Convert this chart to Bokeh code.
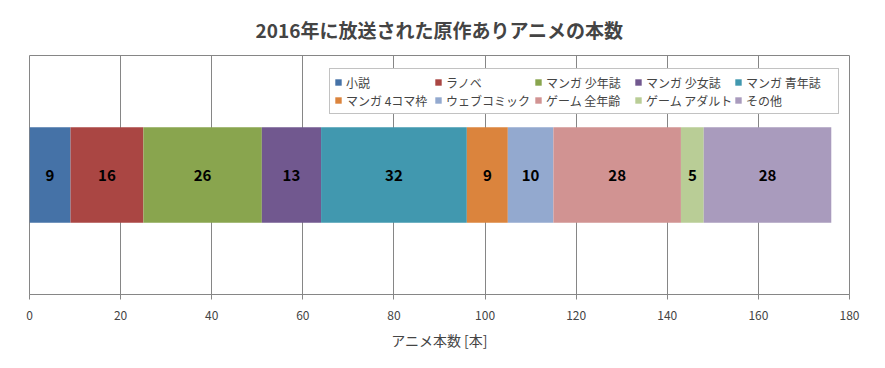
from bokeh.plotting import figure
from bokeh.models import Legend, LegendItem, ColumnDataSource, FactorRange, Range1d, FixedTicker
from bokeh.core.properties import value
from bokeh.embed import file_html
from bokeh.resources import INLINE

title = "2016年に放送された原作ありアニメの本数"
x_label = "アニメ本数 [本]"
categories = ["小説", "ラノベ", "マンガ 少年誌", "マンガ 少女誌", "マンガ 青年誌",
              "マンガ 4コマ枠", "ウェブコミック", "ゲーム 全年齢", "ゲーム アダルト", "その他"]
counts = [9, 16, 26, 13, 32, 9, 10, 28, 5, 28]
colors = ["#4572A7", "#AA4643", "#89A54E", "#71588F", "#4198AF",
          "#DB843D", "#93A9CF", "#D19392", "#B9CD96", "#A99BBD"]
year = ["2016"]
x_ticks = [0, 20, 40, 60, 80, 100, 120, 140, 160, 180]

FONT = "Noto Sans CJK JP"
GRAY = "#868686"

keys = [f"s{i}" for i in range(len(counts))]
data = {"year": year}
for k, v in zip(keys, counts):
    data[k] = [v]
src = ColumnDataSource(data)

p = figure(width=869, height=352, y_range=FactorRange(factors=year),
           x_range=Range1d(0, 180), output_backend="svg", toolbar_location=None,
           min_border_left=29, min_border_right=20, min_border_top=55,
           min_border_bottom=54)

rs = p.hbar_stack(keys, y="year", height=0.4, color=colors, source=src, line_color=None)

# data labels
mids = []
acc = 0
for v in counts:
    mids.append(acc + v / 2)
    acc += v
p.text(x=mids, y=year * len(counts), text=[str(v) for v in counts],
       text_align="center", text_baseline="middle", text_font=value(FONT),
       text_font_size="15px", text_font_style="bold", text_color="black")

# legend: row-major order across 5 columns x 2 rows
ncols, nrows = 5, 2
order = [r * ncols + c for c in range(ncols) for r in range(nrows)]
items = [LegendItem(label=categories[i], renderers=[rs[i]]) for i in order]
legend = Legend(items=items, ncols=ncols, location=(300, 180), padding=4, spacing=0,
                glyph_width=8, glyph_height=8, label_standoff=4, label_width=88,
                label_height=18, label_text_font=FONT, label_text_font_size="12px",
                border_line_color=GRAY, border_line_width=1,
                background_fill_color="white", background_fill_alpha=1.0, margin=0)
p.add_layout(legend)

p.title.text = title
p.title.align = "center"
p.title.vertical_align = "top"
p.title.standoff = 22
p.title.text_font = FONT
p.title.text_font_size = "19px"
p.title.text_font_style = "bold"

p.xaxis.ticker = FixedTicker(ticks=x_ticks)
p.xaxis.axis_label = x_label
p.xaxis.axis_label_text_font = FONT
p.xaxis.axis_label_text_font_size = "14px"
p.xaxis.axis_label_text_font_style = "normal"
p.xaxis.axis_label_standoff = 7
p.xaxis.major_label_standoff = 11
p.xaxis.major_label_text_font = FONT
p.xaxis.major_label_text_font_size = "12px"
p.xaxis.axis_line_color = GRAY
p.xaxis.major_tick_line_color = GRAY
p.xaxis.major_tick_out = 5
p.xaxis.major_tick_in = 0
p.xaxis.minor_tick_line_color = None
p.yaxis.visible = False
p.ygrid.grid_line_color = None
p.xgrid.grid_line_color = GRAY
p.outline_line_color = GRAY
p.background_fill_color = "white"
p.border_fill_color = "white"

open("out.html", "w").write(file_html(p, INLINE))
